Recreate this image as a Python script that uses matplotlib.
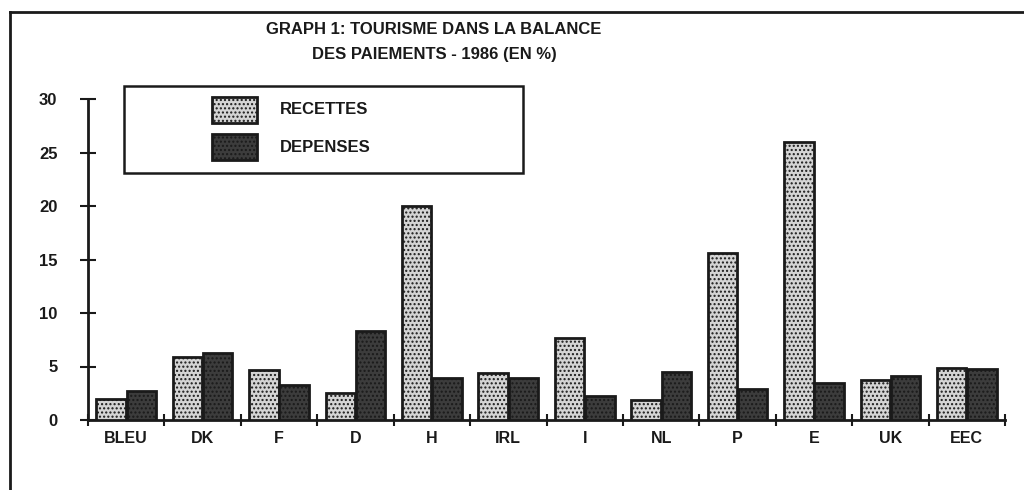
import matplotlib
matplotlib.use("Agg")
import matplotlib.pyplot as plt
import numpy as np
from matplotlib.patches import Rectangle
from matplotlib.lines import Line2D

categories = ["BLEU", "DK", "F", "D", "H", "IRL", "I", "NL", "P", "E", "UK", "EEC"]
recettes = [2.0, 5.9, 4.7, 2.5, 20.0, 4.4, 7.7, 1.9, 15.6, 26.0, 3.7, 4.9]
depenses = [2.7, 6.3, 3.3, 8.3, 3.9, 3.9, 2.2, 4.5, 2.9, 3.5, 4.1, 4.8]
yticks = [0, 5, 10, 15, 20, 25, 30]
title_lines = ["GRAPH 1: TOURISME DANS LA BALANCE", "DES PAIEMENTS - 1986 (EN %)"]
legend_labels = ["RECETTES", "DEPENSES"]

plt.rcParams['font.family'] = ['Liberation Sans Narrow', 'Liberation Sans', 'DejaVu Sans']
plt.rcParams['hatch.linewidth'] = 1.0
plt.rcParams['hatch.color'] = '#888888'

W, H = 1024, 490
fig = plt.figure(figsize=(W/100, H/100), dpi=100)
ax = fig.add_axes([88/W, 1-420/H, (1005-88)/W, (420-99)/H])

x = np.arange(len(categories)) + 0.5
w = 0.385
light = '#d4d4d4'
dark = '#3c3c3c'
edge = '#1a1a1a'
ax.bar(x - w/2 - 0.005, recettes, width=w, facecolor=light, edgecolor=edge,
       linewidth=2, hatch='....', zorder=3)
ax.bar(x + w/2 + 0.005, depenses, width=w, facecolor=dark, edgecolor=edge,
       linewidth=2, hatch='....', zorder=3)

ax.set_xlim(0, len(categories))
ax.set_ylim(0, 30)
ax.set_yticks(yticks)
ax.set_yticklabels([str(v) for v in yticks], fontsize=12, fontweight='bold', color=edge)
ax.set_xticks(x)
ax.set_xticklabels(categories, fontsize=11.5, fontweight='bold', color=edge)
ax.set_xticks(np.arange(len(categories) + 1), minor=True)
ax.tick_params(axis='x', which='major', length=0, pad=8)
ax.tick_params(axis='x', which='minor', direction='inout', length=9, width=1.5, color=edge)
ax.tick_params(axis='y', which='major', direction='inout', length=12, width=1.5, color=edge, pad=16)
for s in ['top', 'right']:
    ax.spines[s].set_visible(False)
for s in ['left', 'bottom']:
    ax.spines[s].set_linewidth(2)
    ax.spines[s].set_color(edge)

# legend (box and entries in figure pixels)
def fx(px):
    return px / W
def fy(py):
    return 1 - py / H

fig.add_artist(Rectangle((fx(124), fy(173)), fx(523) - fx(124), fy(86) - fy(173),
                         transform=fig.transFigure, fill=False, edgecolor=edge, linewidth=1.8))
for i, (lab, col) in enumerate(zip(legend_labels, [light, dark])):
    top = 97 + i * 37
    fig.add_artist(Rectangle((fx(212), fy(top + 26)), fx(257) - fx(212), fy(top) - fy(top + 26),
                             transform=fig.transFigure, facecolor=col, edgecolor=edge,
                             linewidth=2, hatch='....'))
    fig.text(fx(280), fy(top + 13), lab, ha='left', va='center', fontsize=12,
             fontweight='bold', color=edge)

# title
fig.text(fx(434), fy(30), title_lines[0], ha='center', va='center', fontsize=12, fontweight='bold', color=edge)
fig.text(fx(434), fy(55), title_lines[1], ha='center', va='center', fontsize=12, fontweight='bold', color=edge)

# outer frame
fig.add_artist(Line2D([fx(10), fx(10)], [0, fy(12)], transform=fig.transFigure, color=edge, linewidth=2))
fig.add_artist(Line2D([fx(10), 1], [fy(12), fy(12)], transform=fig.transFigure, color=edge, linewidth=2))

fig.savefig('out.png', dpi=100)
